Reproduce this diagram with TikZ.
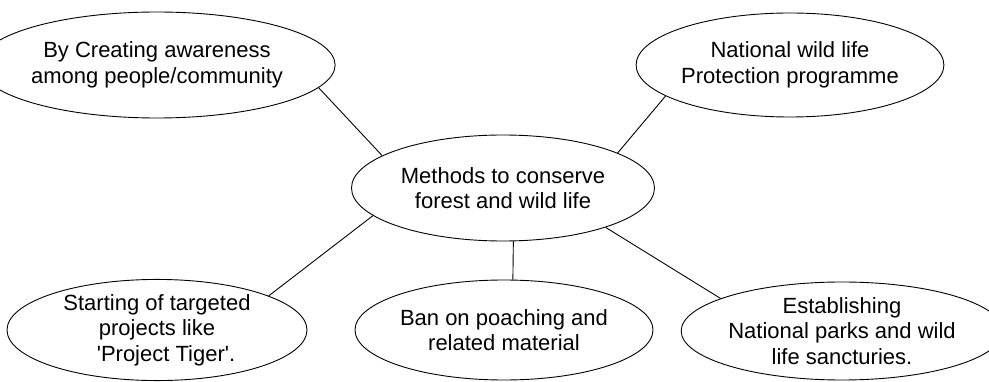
\documentclass[tikz,border=0pt]{standalone}
\usepackage{fontspec}
\setmainfont{Liberation Sans}
\usetikzlibrary{shapes.geometric}

\begin{document}
\begin{tikzpicture}[
  x=1pt, y=-1pt,
  oval/.style={draw, ellipse, inner sep=0pt, align=center, line width=0.9pt, font=\fontsize{22}{25.5}\selectfont},
  link/.style={line width=0.9pt}
]
  \useasboundingbox (0,0) rectangle (989,382);

  \node[oval, minimum width=300pt, minimum height=106pt] (aware) at (157,65) {By Creating awareness\\among people/community};
  \node[oval, minimum width=290pt, minimum height=104pt] (protect) at (790,65) {National wild life\\Protection programme};
  \node[oval, minimum width=303pt, minimum height=106pt] (methods) at (503,188) {Methods to conserve\\forest and wild life};
  \node[oval, minimum width=300pt, minimum height=100pt] (tiger) at (157,330) {Starting of targeted\\projects like\\\hspace*{18pt}\textquotesingle Project Tiger\textquotesingle.};
  \node[oval, minimum width=298pt, minimum height=100pt] (poach) at (504,330) {Ban on poaching and\\related material};
  \node[oval, minimum width=288pt, minimum height=98pt] (parks) at (842,331) {Establishing\\National parks and wild\\life sancturies.};

  \draw[link] (aware.-8) -- (methods.165);
  \draw[link] (protect.-166) -- (methods.17);
  \draw[link] (tiger.17) -- (methods.-168);
  \draw[link] (poach.80) -- (methods.-79);
  \draw[link] (parks.165) -- (methods.-21);
\end{tikzpicture}
\end{document}
